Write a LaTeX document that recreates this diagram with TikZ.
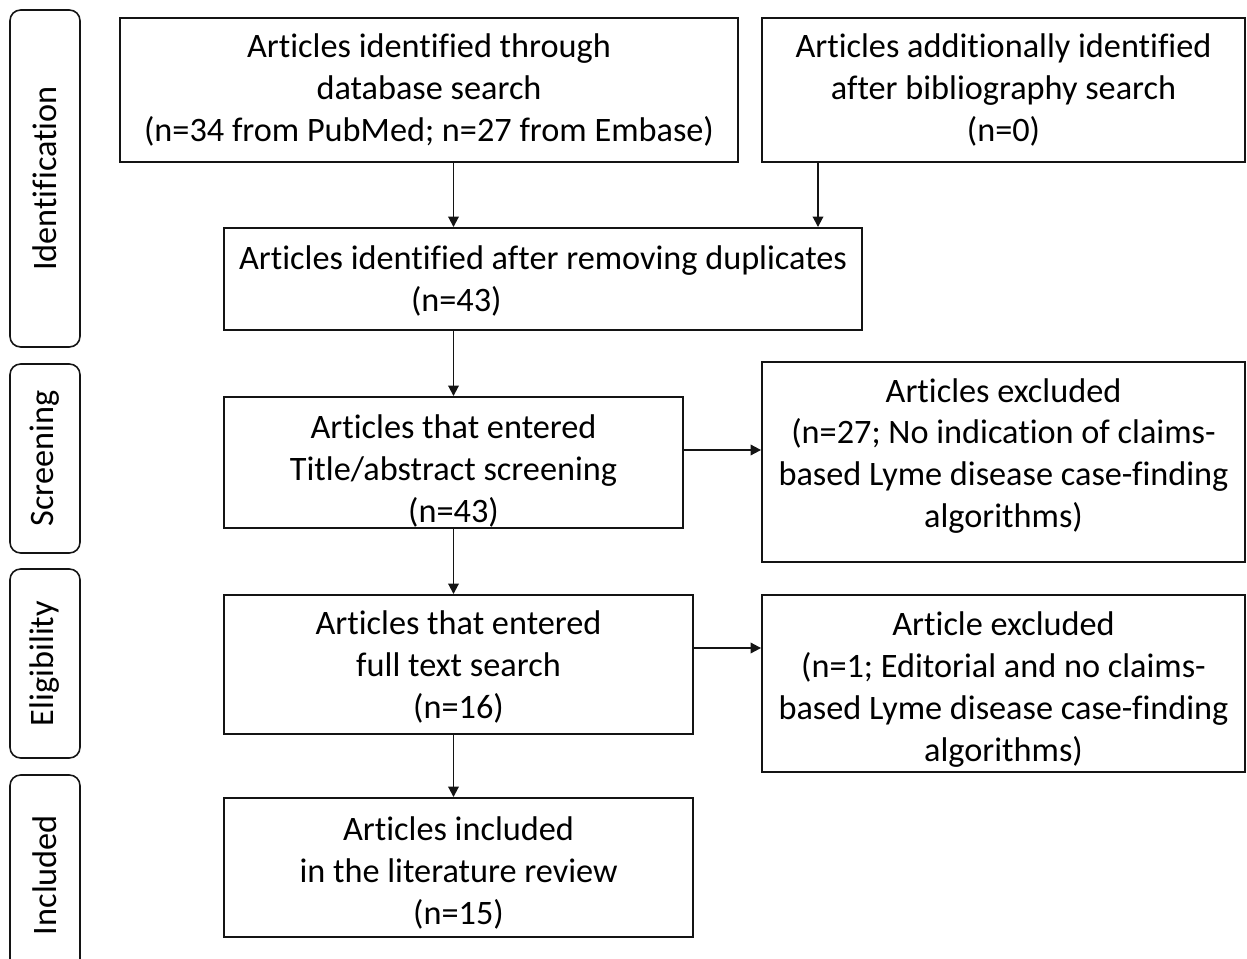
\documentclass[tikz,border=0pt]{standalone}
\usepackage{fontspec}
\setmainfont[Ligatures=NoCommon]{Carlito}
\usepackage{tikz}
\usetikzlibrary{arrows.meta, positioning, calc}
\definecolor{cLine}{RGB}{20,20,20}
\tikzset{
  flowbox/.style={rectangle, draw=cLine, line width=1.1pt, align=center,
                  inner sep=0pt, font=\fontsize{19.5}{23.8}\selectfont},
  sidebox/.style={rectangle, rounded corners=6pt, draw=cLine, line width=0.9pt,
                  rotate=90, inner sep=0pt, minimum height=1.4cm,
                  font=\fontsize{19.5}{22}\selectfont},
  flowarrow/.style={-{Triangle[length=6pt, width=6pt]}, draw=cLine, line width=1.1pt},
}
\begin{document}
\begin{tikzpicture}[x=0.02cm, y=-0.02cm]
\useasboundingbox (0,0) rectangle (1247,959);

%% ============================================================
%%  PHASE LABELS (left column)
%% ============================================================
\node[sidebox, minimum width=6.74cm] (sIdent) at (45,178.5) {Identification};
\node[sidebox, minimum width=3.78cm] (sScreen) at (45,458.5) {Screening};
\node[sidebox, minimum width=3.78cm] (sElig) at (45,663.5) {Eligibility};
\node[sidebox, minimum width=4.0cm] (sIncl) at (45,875) {Included};

%% ============================================================
%%  IDENTIFICATION
%% ============================================================
\node[flowbox, minimum width=12.36cm, minimum height=2.88cm]
  (dbSearch) at (429,90) {Articles identified through\\database search\\(n=34 from PubMed; n=27 from Embase)};
\node[flowbox, minimum width=9.66cm, minimum height=2.88cm]
  (bibSearch) at (1003.5,90) {Articles additionally identified\\after bibliography search\\(n=0)};
\node[flowbox, align=left, minimum width=12.76cm, minimum height=2.04cm, text depth=0cm]
  (noDup) at (543,279) {Articles identified after removing duplicates\\\hspace*{3.44cm}(n=43)};

%% ============================================================
%%  SCREENING
%% ============================================================
\node[flowbox, minimum width=9.18cm, minimum height=2.62cm, text depth=0cm]
  (titleScr) at (453.5,462.5) {\rule{0pt}{0.72cm}Articles that entered\\Title/abstract screening\\(n=43)};
\node[flowbox, minimum width=9.66cm, minimum height=4.0cm, text depth=0.36cm]
  (exclA) at (1003.5,462) {Articles excluded\\(n=27; No indication of claims-\\based Lyme disease case-finding\\algorithms)};

%% ============================================================
%%  ELIGIBILITY
%% ============================================================
\node[flowbox, minimum width=9.38cm, minimum height=2.78cm, text depth=0cm]
  (fullText) at (458.5,664.5) {Articles that entered\\full text search\\(n=16)};
\node[flowbox, minimum width=9.66cm, minimum height=3.54cm, text depth=0cm]
  (exclB) at (1003.5,683.5) {\rule{0pt}{0.6cm}Article excluded\\(n=1; Editorial and no claims-\\based Lyme disease case-finding\\algorithms)};

%% ============================================================
%%  INCLUDED
%% ============================================================
\node[flowbox, minimum width=9.38cm, minimum height=2.78cm, text depth=0cm]
  (incl) at (458.5,867.5) {\rule{0pt}{0.6cm}Articles included\\in the literature review\\(n=15)};

%% ============================================================
%%  Connectors
%% ============================================================
\coordinate (bibX) at (818,0);
\coordinate (exclAY) at (0,450);
\coordinate (exclBY) at (0,648);
\draw[flowarrow] (dbSearch.south -| titleScr.north) -- (noDup.north -| titleScr.north);
\draw[flowarrow] (bibSearch.south -| bibX) -- (noDup.north -| bibX);
\draw[flowarrow] (noDup.south -| titleScr.north) -- (titleScr.north);
\draw[flowarrow] (titleScr.south) -- (fullText.north -| titleScr.south);
\draw[flowarrow] (fullText.south -| titleScr.south) -- (incl.north -| titleScr.south);
\draw[flowarrow] (titleScr.east |- exclAY) -- (exclA.west |- exclAY);
\draw[flowarrow] (fullText.east |- exclBY) -- (exclB.west |- exclBY);

\end{tikzpicture}
\end{document}
